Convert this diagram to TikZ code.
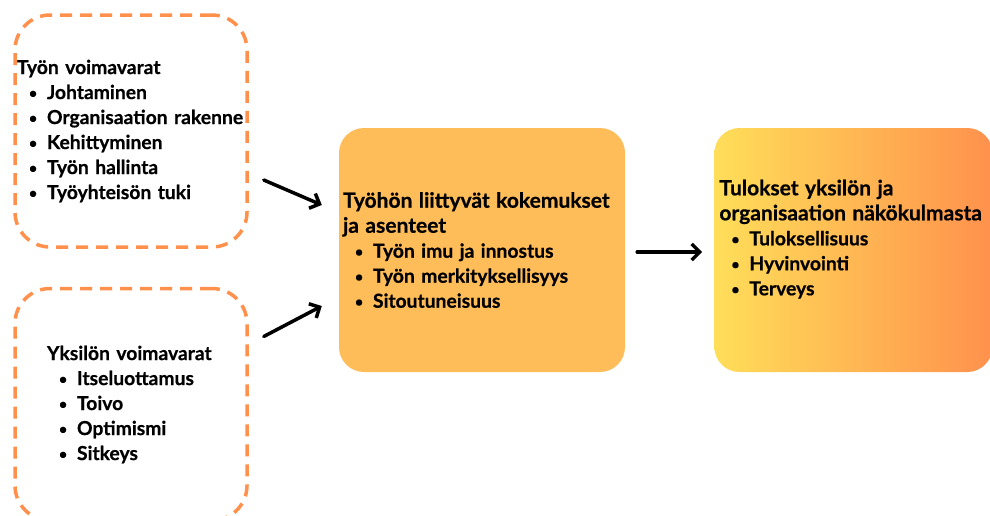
\documentclass[tikz,border=0pt]{standalone}
\usepackage{fontspec}
\setmainfont{Lato}[BoldFeatures={FakeBold=0.6}]
\usetikzlibrary{positioning,arrows.meta}
\definecolor{dashorange}{RGB}{255,145,77}
\definecolor{expfill}{RGB}{255,189,89}
\definecolor{resleft}{RGB}{255,222,89}
\definecolor{resright}{RGB}{255,145,77}
\newcommand{\bitem}{\hspace*{12pt}\makebox[18pt][l]{\raisebox{1pt}{\fontsize{14}{14}\selectfont\textbullet}}}
\newcommand{\bigline}[1]{{\fontsize{21}{25}\selectfont #1}}

\begin{document}
\begin{tikzpicture}[
    x=1pt, y=-1pt,
    block/.style={align=left, inner ysep=0pt, font=\bfseries\fontsize{19.3}{25}\selectfont},
    dashbox/.style={block, draw=dashorange, rounded corners=35pt, line width=3.5pt, dash pattern=on 12pt off 8pt, minimum width=232pt, minimum height=232pt},
    fillbox/.style={block, rounded corners=25pt, minimum height=244pt},
    arrow/.style={-{Straight Barb[length=8pt,width=16pt]}, line width=3.5pt, line cap=round},
    node distance=38pt
]
    \useasboundingbox (0,0) rectangle (990,515);

    % Resources
    \node[dashbox, text width=228pt, inner xsep=2pt] (work) at (131,131)
        {Työn voimavarat\\
         \bitem Johtaminen\\
         \bitem Organisaation~rakenne\\
         \bitem Kehittyminen\\
         \bitem Työn hallinta\\
         \bitem Työyhteisön tuki};
    \node[dashbox, text width=168pt, inner xsep=32pt, below=of work] (pers)
        {Yksilön voimavarat\\
         \bitem Itseluottamus\\
         \bitem Toivo\\
         \bitem Optimismi\\
         \bitem Sitkeys};

    % Experiences
    \node[fillbox, fill=expfill, minimum width=286pt, text width=278pt, inner xsep=4pt] (exp) at (482,250)
        {\bigline{Työhön liittyvät kokemukset}\\
         \bigline{ja asenteet}\\
         \bitem Työn imu ja innostus\\
         \bitem Työn merkityksellisyys\\
         \bitem Sitoutuneisuus};

    % Outcomes
    \node[fillbox, left color=resleft, right color=resright, text width=268pt, inner xsep=5pt, right=89pt of exp] (res)
        {\bigline{Tulokset yksilön ja}\\
         \bigline{organisaation~näkökulmasta}\\
         \bitem Tuloksellisuus\\
         \bitem Hyvinvointi\\
         \bitem Terveys\\
         \mbox{}};

    \draw[arrow] ([xshift=15pt, yshift=-49pt]work.east) -- ([xshift=-17pt, yshift=45pt]exp.west);
    \draw[arrow] ([xshift=15pt, yshift=68pt]pers.east) -- ([xshift=-17pt, yshift=-56pt]exp.west);
    \draw[arrow] ([xshift=12pt, yshift=-2pt]exp.east) -- ([xshift=-12pt, yshift=-2pt]res.west);
\end{tikzpicture}
\end{document}
